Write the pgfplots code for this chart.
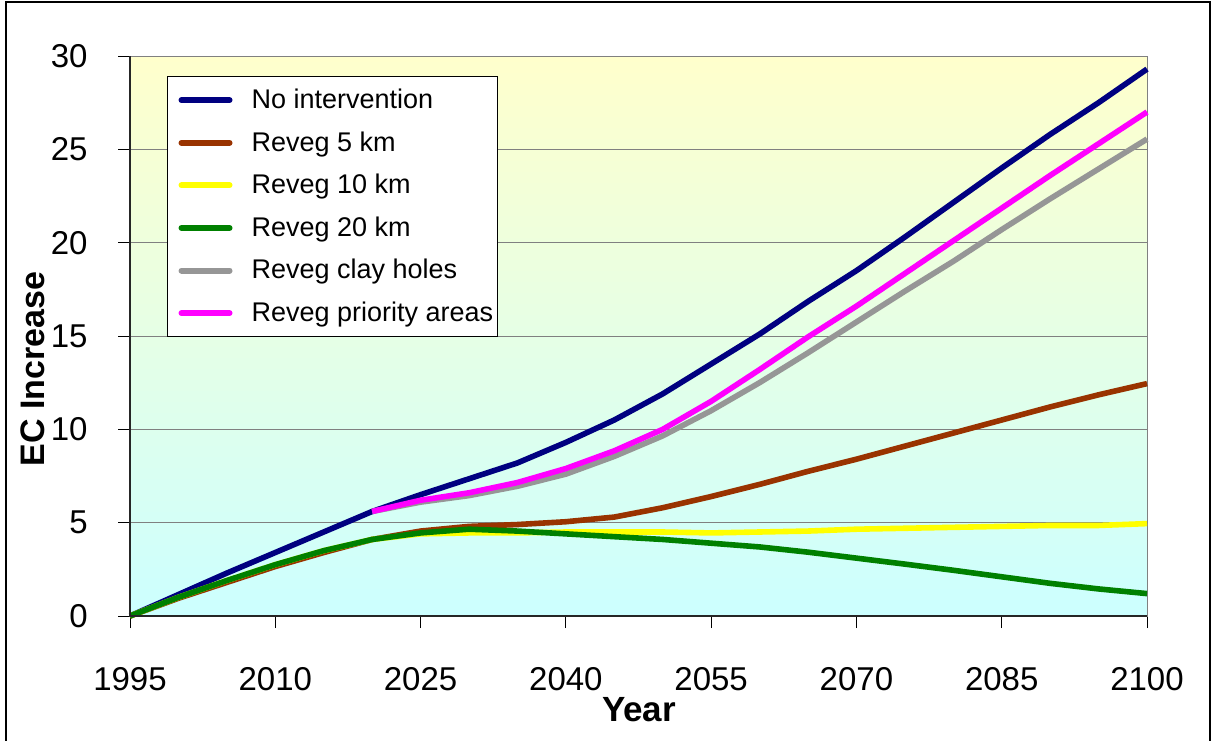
\documentclass[border=0pt]{standalone}
\usepackage{fontspec}
\setmainfont{Liberation Sans}
\usepackage{pgfplots}
\pgfplotsset{compat=1.18}

\definecolor{cNavy}{RGB}{0,0,128}
\definecolor{cBrown}{RGB}{153,51,0}
\definecolor{cYellow}{RGB}{255,255,0}
\definecolor{cGreen}{RGB}{0,128,0}
\definecolor{cGray}{RGB}{150,150,150}
\definecolor{cPink}{RGB}{255,0,255}
\definecolor{bgTop}{RGB}{255,255,204}
\definecolor{bgBot}{RGB}{204,255,255}
\definecolor{gridGray}{RGB}{128,128,128}

\begin{document}
\begin{tikzpicture}
\path[use as bounding box] (0,0) rectangle (608pt,370pt);
\fill[white] (0,0) rectangle (608pt,370pt);
\draw[black, line width=0.8pt] (3pt,-2pt) -- (3pt,369pt) -- (605pt,369pt) -- (605pt,-2pt);
\begin{axis}[
  at={(65pt,62pt)}, anchor=south west,
  width=508.5pt, height=280pt, scale only axis,
  xmin=1995, xmax=2100, ymin=0, ymax=30,
  enlargelimits=false, clip=false,
  xtick={1995,2010,2025,2040,2055,2070,2085,2100},
  ytick={0,5,10,15,20,25,30},
  minor tick num=0,
  tick pos=left, tick align=outside,
  major tick length=6pt,
  tick style={black, line width=0.5pt},
  /pgf/number format/assume math mode=true,
  /pgf/number format/set thousands separator={},
  ticklabel style={font=\fontsize{16.5}{19}\selectfont, inner sep=0pt},
  yticklabel style={anchor=east, xshift=-15pt},
  xticklabel style={anchor=north, yshift=-19.5pt},
  ymajorgrids,
  major grid style={gridGray, line width=0.5pt},
  axis line style={draw=gridGray, line width=0.5pt},
  axis background/.style={top color=bgTop, bottom color=bgBot},
  xlabel={Year}, ylabel={EC Increase},
  every axis x label/.style={at={(axis description cs:0.5005,-0.168)}, anchor=center, font=\fontsize{17.5}{20}\selectfont\bfseries},
  every axis y label/.style={at={(axis description cs:-0.0954,0.441)}, anchor=center, rotate=90, font=\fontsize{17}{20}\selectfont\bfseries},
  legend cell align=left,
  legend style={at={(axis description cs:0.0364,0.964)}, anchor=north west,
    draw=black, line width=0.5pt, fill=white,
    inner xsep=2pt, inner ysep=2.75pt,
    row sep=3.3pt, column sep=0pt,
    font=\fontsize{13.5}{16}\selectfont,
    nodes={inner sep=0pt, minimum height=18pt}},
  legend image code/.code={
    \path[draw=none, fill=none] (0pt,0pt) -- (40pt,0pt);
    \draw[#1, line width=3pt, line cap=round] (5pt,0pt) -- (29pt,0pt);
  },
  every axis plot/.append style={line width=2.8pt, line join=round, no markers},
]
\addplot[cNavy] coordinates {(1995,0) (2000,1.15) (2005,2.3) (2010,3.4) (2015,4.5) (2020,5.6) (2025,6.5) (2030,7.35) (2035,8.2) (2040,9.3) (2045,10.5) (2050,11.9) (2055,13.5) (2060,15.1) (2065,16.85) (2070,18.5) (2075,20.3) (2080,22.15) (2085,24.0) (2090,25.8) (2095,27.5) (2100,29.3)};
\addlegendentry{No intervention}
\addplot[cBrown] coordinates {(1995,0) (2000,0.95) (2005,1.8) (2010,2.65) (2015,3.4) (2020,4.1) (2025,4.55) (2030,4.8) (2035,4.9) (2040,5.05) (2045,5.3) (2050,5.8) (2055,6.4) (2060,7.05) (2065,7.75) (2070,8.4) (2075,9.1) (2080,9.8) (2085,10.5) (2090,11.2) (2095,11.85) (2100,12.45)};
\addlegendentry{Reveg 5 km}
\addplot[cYellow] coordinates {(1995,0) (2000,1.0) (2005,1.9) (2010,2.75) (2015,3.5) (2020,4.1) (2025,4.4) (2030,4.45) (2035,4.45) (2040,4.5) (2045,4.5) (2050,4.5) (2055,4.45) (2060,4.5) (2065,4.55) (2070,4.65) (2075,4.7) (2080,4.75) (2085,4.8) (2090,4.85) (2095,4.85) (2100,4.95)};
\addlegendentry{Reveg 10 km}
\addplot[cGreen] coordinates {(1995,0) (2000,1.0) (2005,1.9) (2010,2.75) (2015,3.5) (2020,4.1) (2025,4.45) (2030,4.65) (2035,4.55) (2040,4.4) (2045,4.25) (2050,4.1) (2055,3.9) (2060,3.7) (2065,3.42) (2070,3.1) (2075,2.78) (2080,2.45) (2085,2.1) (2090,1.75) (2095,1.45) (2100,1.2)};
\addlegendentry{Reveg 20 km}
\addplot[cGray] coordinates {(2020,5.6) (2025,6.1) (2030,6.45) (2035,6.95) (2040,7.6) (2045,8.55) (2050,9.65) (2055,11.0) (2060,12.5) (2065,14.1) (2070,15.75) (2075,17.4) (2080,19.0) (2085,20.7) (2090,22.35) (2095,23.95) (2100,25.55)};
\addlegendentry{Reveg clay holes}
\addplot[cPink] coordinates {(2020,5.6) (2025,6.2) (2030,6.6) (2035,7.15) (2040,7.9) (2045,8.85) (2050,10.0) (2055,11.5) (2060,13.2) (2065,14.95) (2070,16.6) (2075,18.35) (2080,20.1) (2085,21.85) (2090,23.6) (2095,25.3) (2100,27.0)};
\addlegendentry{Reveg priority areas}
\draw[black!85, line width=0.6pt] (rel axis cs:0,1) -- (rel axis cs:0,0) -- (rel axis cs:1,0);
\end{axis}
\end{tikzpicture}
\end{document}
